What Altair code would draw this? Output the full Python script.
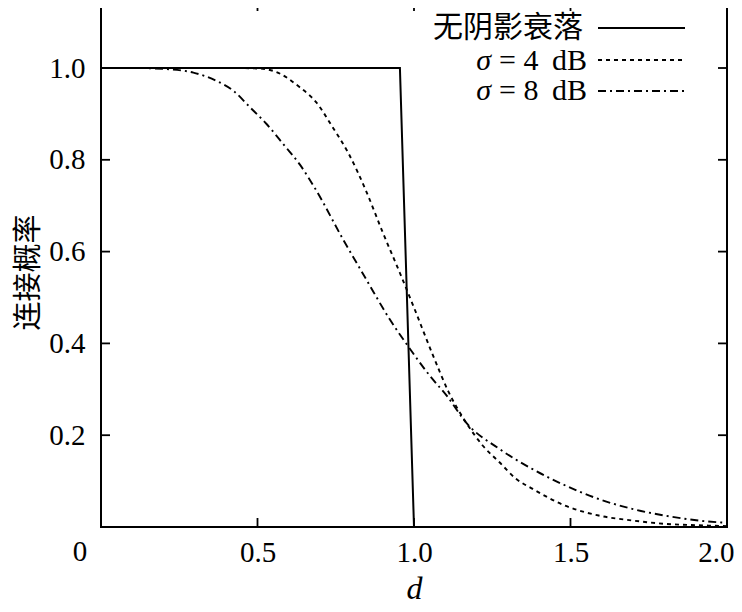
import altair as alt
import pandas as pd

# ---------------- data ----------------
series_names = ["无阴影衰落", "σ = 4 dB", "σ = 8 dB"]

solid_d = [0.0, 0.955, 1.0]
solid_p = [1.0, 1.0, 0.0]

s4_d = [0.0, 0.2, 0.4, 0.5, 0.549, 0.635, 0.688, 0.74, 0.79, 0.847, 0.90, 0.954,
        1.0, 1.06, 1.11, 1.166, 1.22, 1.273, 1.326, 1.379, 1.485, 1.59, 1.70, 1.80, 1.90, 2.0]
s4_p = [1.0, 1.0, 1.0, 0.999, 0.994, 0.958, 0.925, 0.871, 0.815, 0.732, 0.642, 0.555,
        0.478, 0.375, 0.295, 0.228, 0.177, 0.141, 0.105, 0.083, 0.046, 0.025, 0.014, 0.007, 0.004, 0.002]

s8_d = [0.0, 0.1, 0.2, 0.295, 0.369, 0.422, 0.475, 0.529, 0.585, 0.635, 0.688, 0.773, 0.847,
        0.922, 0.98, 1.05, 1.108, 1.166, 1.273, 1.379, 1.485, 1.59, 1.70, 1.80, 1.91, 2.0]
s8_p = [1.0, 1.0, 0.998, 0.99, 0.972, 0.951, 0.915, 0.878, 0.832, 0.79, 0.733, 0.627, 0.54,
        0.453, 0.395, 0.33, 0.283, 0.228, 0.17, 0.126, 0.09, 0.061, 0.039, 0.025, 0.014, 0.009]

x_tick_labels = [0.5, 1.0, 1.5, 2.0]
x_tick_marks = [0.5, 1.0, 1.5]
y_tick_values = [0.2, 0.4, 0.6, 0.8, 1.0]

# ---------------- styles ----------------
FONT = "Liberation Serif, Times New Roman, serif"
CJK = "Noto Sans CJK SC"
W, H = 626, 525
dashes = [[1, 0], [4, 4], [8, 4, 2, 4]]

x_scale = alt.Scale(domain=[0, 2], nice=False, zero=False)
y_scale = alt.Scale(domain=[0, 1.1438], nice=False, zero=False)

solid_df = pd.DataFrame({"d": solid_d, "p": solid_p, "series": series_names[0]})
curve_df = pd.concat([
    pd.DataFrame({"d": s4_d, "p": s4_p, "series": series_names[1]}),
    pd.DataFrame({"d": s8_d, "p": s8_p, "series": series_names[2]}),
], ignore_index=True)

x_axis = alt.Axis(values=x_tick_labels, format=".1f", ticks=False, domain=False, grid=False,
                  labelFont=FONT, labelFontSize=29, labelColor="black", labelPadding=11,
                  labelFlush=True, labelFlushOffset=7, labelOverlap=False, labelBaseline="top",
                  title="d", titleFont=FONT, titleFontSize=32, titleFontStyle="italic",
                  titleFontWeight="normal", titleColor="black", titleY=71,
                  titleBaseline="alphabetic")
y_axis = alt.Axis(values=y_tick_values, format=".1f", ticks=False, domain=False, grid=False,
                  labelFont=FONT, labelFontSize=29, labelColor="black", labelPadding=16,
                  labelOverlap=False, labelFlush=False,
                  title="连接概率", titleFont=CJK, titleFontSize=29, titleFontWeight="normal",
                  titleColor="black", titleAngle=270, titleX=-73, titleY=270,
                  titleAlign="center", titleBaseline="middle")

solid = alt.Chart(solid_df).mark_line(color="black", strokeWidth=2).encode(
    x=alt.X("d:Q", scale=x_scale, axis=x_axis),
    y=alt.Y("p:Q", scale=y_scale, axis=y_axis),
)

curves = alt.Chart(curve_df).mark_line(color="black", strokeWidth=1.9, interpolate="monotone").encode(
    x=alt.X("d:Q", scale=x_scale),
    y=alt.Y("p:Q", scale=y_scale),
    strokeDash=alt.StrokeDash("series:N", scale=alt.Scale(domain=series_names[1:], range=dashes[1:]),
                              legend=None),
    detail="series:N",
)

# inward ticks on all four sides
xt_df = pd.DataFrame({"d": x_tick_marks})
yt_df = pd.DataFrame({"p": y_tick_values})
tick_style = dict(color="black", strokeWidth=1.8)
ticks = [
    alt.Chart(xt_df).mark_rule(**tick_style).encode(
        x=alt.X("d:Q", scale=x_scale), y=alt.value(H), y2=alt.value(H - 9)),
    alt.Chart(xt_df).mark_rule(**tick_style).encode(
        x=alt.X("d:Q", scale=x_scale), y=alt.value(0), y2=alt.value(9)),
    alt.Chart(yt_df).mark_rule(**tick_style).encode(
        y=alt.Y("p:Q", scale=y_scale), x=alt.value(0), x2=alt.value(9)),
    alt.Chart(yt_df).mark_rule(**tick_style).encode(
        y=alt.Y("p:Q", scale=y_scale), x=alt.value(W), x2=alt.value(W - 9)),
]

# corner "0" label
zero_df = pd.DataFrame({"d": [0.0], "p": [0.0], "label": ["0"]})
zero_label = alt.Chart(zero_df).mark_text(font=FONT, fontSize=29, baseline="top", align="center",
                                          dx=-21, dy=11, color="black").encode(
    x=alt.X("d:Q", scale=x_scale), y=alt.Y("p:Q", scale=y_scale), text="label:N")

# legend (label to the left of the line sample)
legend_layers = []
row_y = [26, 59, 89]
line_y = [26, 58, 89]
for i, name in enumerate(series_names):
    ldf = pd.DataFrame({"label": [name]})
    if i == 0:
        legend_layers.append(alt.Chart(ldf).mark_text(font=CJK, fontSize=30, align="right",
                                                      baseline="middle", color="black").encode(
            x=alt.value(482), y=alt.value(row_y[i]), text="label:N"))
    else:
        sym, rest = name.split(" ", 1)
        head, unit = rest.rsplit(" ", 1)
        rest = head + " \u2009" + unit
        sdf = pd.DataFrame({"label": [sym]})
        rdf = pd.DataFrame({"label": [rest]})
        legend_layers.append(alt.Chart(sdf).mark_text(font=FONT, fontSize=30, fontStyle="italic",
                                                      align="right", baseline="middle",
                                                      color="black").encode(
            x=alt.value(390), y=alt.value(row_y[i]), text="label:N"))
        legend_layers.append(alt.Chart(rdf).mark_text(font=FONT, fontSize=30, align="right",
                                                      baseline="middle", color="black").encode(
            x=alt.value(486), y=alt.value(row_y[i]), text="label:N"))
    legend_layers.append(alt.Chart(ldf).mark_rule(color="black", strokeWidth=1.8,
                                                  strokeDash=dashes[i]).encode(
        x=alt.value(497), x2=alt.value(584), y=alt.value(line_y[i])))

chart = alt.layer(solid, curves, *ticks, zero_label, *legend_layers).properties(
    width=W, height=H,
    padding={"left": 93, "top": -6, "right": 7, "bottom": 77},
    autosize=alt.AutoSizeParams(type="none"),
    background="white",
).configure_view(stroke="black", strokeWidth=2)

chart.save("out.html", embed_options={"renderer": "svg", "actions": False})
